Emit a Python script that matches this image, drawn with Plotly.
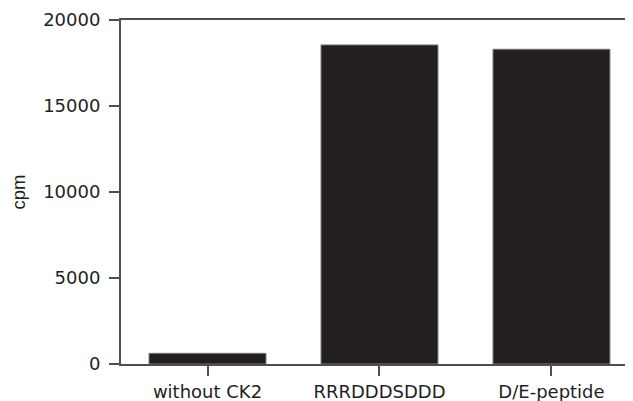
import plotly.graph_objects as go

categories = ["without CK2", "RRRDDDSDDD", "D/E-peptide"]
values = [620, 18550, 18300]
y_ticks = [0, 5000, 10000, 15000, 20000]

fig = go.Figure()
fig.add_trace(go.Bar(
    x=categories, y=values,
    marker=dict(color="#231f20", line=dict(color="#7a7a7a", width=1)),
    width=0.68,
))

axis_color = "#4f4f4f"
font = dict(family="DejaVu Sans, sans-serif", size=18, color="#231f20")
title_font = dict(family="Liberation Sans, Arial, sans-serif", size=18.5, color="#231f20")

# The page body adds an 8px margin, so the figure is 8px smaller than the window.
fig.update_layout(
    width=625, height=393,
    margin=dict(l=113, r=0, t=12, b=37),
    paper_bgcolor="white", plot_bgcolor="white",
    font=font,
    showlegend=False,
    xaxis=dict(
        range=[-0.503, 2.474],
        showline=True, linecolor=axis_color, linewidth=2, mirror=True,
        ticks="outside", ticklen=10, tickwidth=2, tickcolor=axis_color,
        showgrid=False, zeroline=False,
        tickfont=font,
    ),
    yaxis=dict(
        range=[0, 20000],
        tickvals=y_ticks, ticktext=[str(v) for v in y_ticks],
        showline=True, linecolor=axis_color, linewidth=2,
        ticks="outside", ticklen=10, tickwidth=2, tickcolor=axis_color,
        showgrid=False, zeroline=False,
        tickfont=font,
        ticklabelstandoff=5,
        title=dict(text="cpm", font=title_font, standoff=16),
    ),
)

fig.write_html("out.html")
